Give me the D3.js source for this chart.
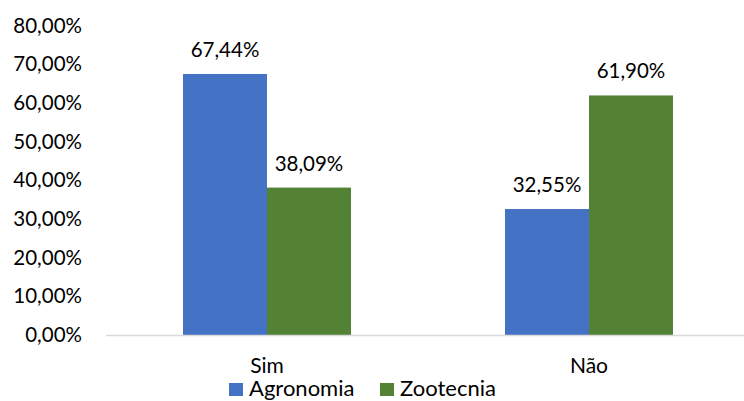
<!DOCTYPE html>
<html><head><meta charset="utf-8">
<script src="https://cdn.jsdelivr.net/npm/d3@7"></script>
<style>body{margin:0;background:#fff}svg{display:block}</style>
</head><body><svg id="c" width="744" height="401"></svg>
<script>
const categories = ["Sim", "Não"];
const seriesNames = ["Agronomia", "Zootecnia"];
const agronomia = [67.44, 32.55];
const zootecnia = [38.09, 61.90];
const yTicks = [0, 10, 20, 30, 40, 50, 60, 70, 80];
const colors = ["#4472C4", "#548235"];
const seriesValues = [agronomia, zootecnia];

const svg = d3.select("#c");
const font = "Lato, 'Open Sans', sans-serif";
const fs = 20.5;
const x0 = d3.scaleBand().domain(categories).range([106, 750]).padding(0);
const x1 = d3.scaleBand().domain(seriesNames).range([0, x0.bandwidth()]).paddingInner(0).paddingOuter(0.917);
const y = d3.scaleLinear().domain([0, 80]).range([335, 25.4]);
const fmt = v => v.toFixed(2).replace(".", ",") + "%";

// y labels
svg.append("g").selectAll("text").data(yTicks).join("text")
  .attr("x", 82).attr("y", d => y(d)).attr("dy", "0.35em")
  .attr("text-anchor", "end").attr("font-family", font).attr("font-size", fs).attr("fill", "#000")
  .text(d => fmt(d));

// bars
const groups = svg.append("g").selectAll("g").data(categories).join("g")
  .attr("transform", c => `translate(${x0(c)},0)`);
groups.selectAll("rect").data((c, i) => seriesNames.map((s, j) => ({s, j, v: seriesValues[j][i]}))).join("rect")
  .attr("x", d => x1(d.s)).attr("width", x1.bandwidth())
  .attr("y", d => y(d.v)).attr("height", d => y(0) - y(d.v))
  .attr("fill", d => colors[d.j]);
groups.selectAll("text").data((c, i) => seriesNames.map((s, j) => ({s, j, v: seriesValues[j][i]}))).join("text")
  .attr("x", d => x1(d.s) + x1.bandwidth() / 2).attr("y", d => y(d.v) - 17)
  .attr("text-anchor", "middle").attr("font-family", font).attr("font-size", fs).attr("fill", "#000")
  .text(d => fmt(d.v));

// axis line
svg.append("line").attr("x1", 106).attr("x2", 744).attr("y1", 335.5).attr("y2", 335.5)
  .attr("stroke", "#d9d9d9").attr("stroke-width", 1.5);

// category labels
svg.append("g").selectAll("text").data(categories).join("text")
  .attr("x", c => x0(c) + x0.bandwidth() / 2).attr("y", 373)
  .attr("text-anchor", "middle").attr("font-family", font).attr("font-size", 21).attr("fill", "#000")
  .text(c => c);

// legend
const legX = [229, 380];
const leg = svg.append("g").selectAll("g").data(seriesNames).join("g")
  .attr("transform", (d, i) => `translate(${legX[i]},0)`);
leg.append("rect").attr("x", 0).attr("y", 383).attr("width", 14).attr("height", 13)
  .attr("fill", (d, i) => colors[i]);
leg.append("text").attr("x", 20).attr("y", 395.5)
  .attr("font-family", font).attr("font-size", 22).attr("fill", "#000").text(d => d);
</script></body></html>
